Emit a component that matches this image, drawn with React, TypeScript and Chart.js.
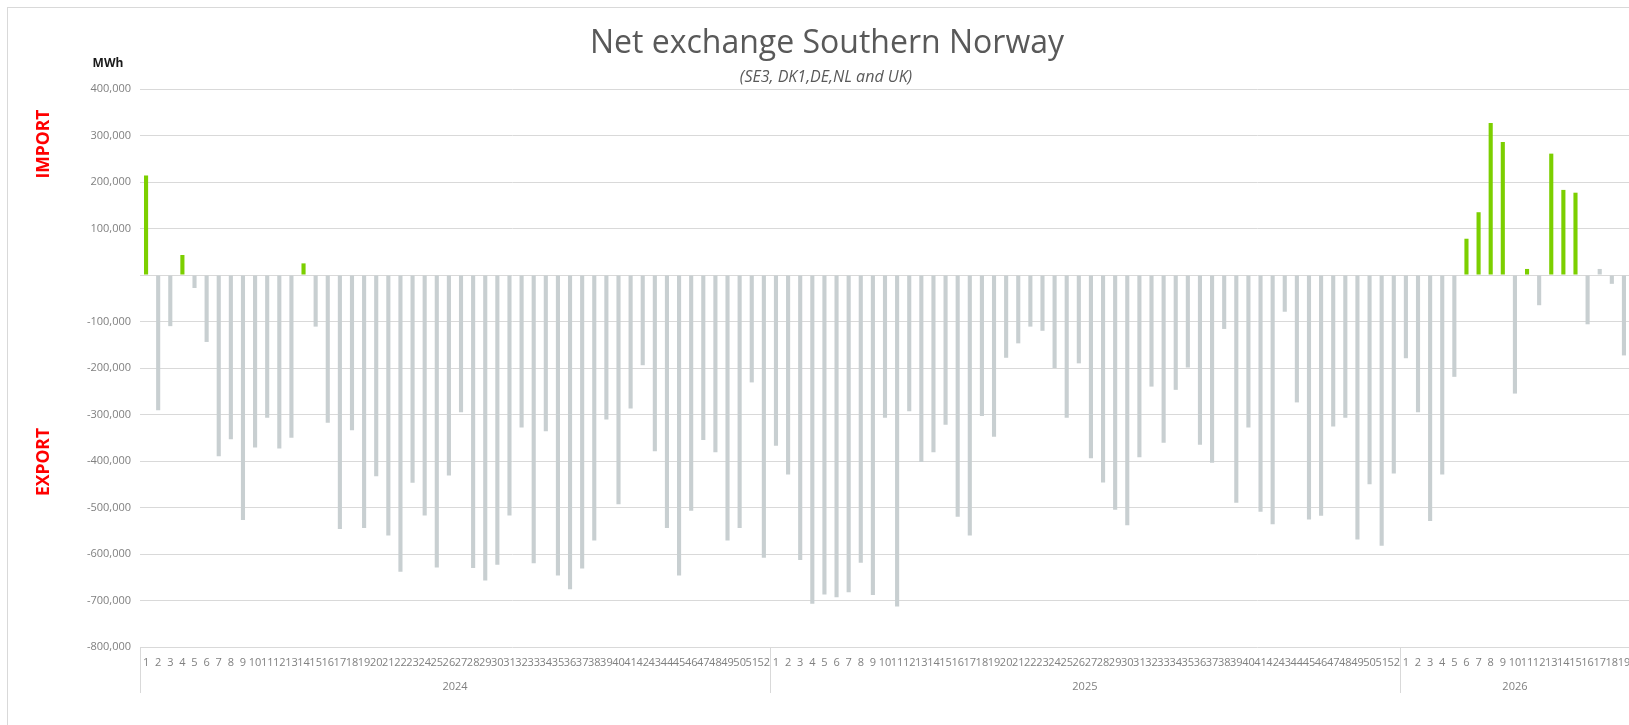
import React, { useEffect, useRef } from 'react';
import { Chart, registerables } from 'chart.js';

Chart.register(...registerables);

// ---- Data (MWh, weekly net exchange; + = import, - = export) ----
const years = ['2024', '2025', '2026'];

const weeks2024 = [
  214000, -291000, -110000, 43000, -28000, -144000, -390000, -353000, -527000, -371000,
  -307000, -373000, -350000, 25000, -111000, -318000, -546000, -334000, -544000, -433000,
  -560000, -638000, -447000, -517000, -629000, -431000, -295000, -630000, -657000, -623000,
  -517000, -328000, -620000, -336000, -646000, -676000, -631000, -571000, -311000, -493000,
  -287000, -194000, -379000, -544000, -646000, -507000, -355000, -381000, -571000, -544000,
  -231000, -608000,
];

const weeks2025 = [
  -367000, -429000, -613000, -707000, -687000, -693000, -682000, -619000, -688000, -307000,
  -713000, -293000, -402000, -381000, -322000, -520000, -560000, -303000, -348000, -178000,
  -147000, -111000, -120000, -200000, -307000, -190000, -394000, -446000, -505000, -538000,
  -392000, -240000, -361000, -247000, -199000, -365000, -404000, -116000, -490000, -328000,
  -509000, -536000, -79000, -274000, -526000, -518000, -326000, -307000, -569000, -450000,
  -582000, -427000,
];

const weeks2026 = [
  -179000, -295000, -529000, -429000, -219000, 78000, 135000, 327000, 286000, -255000,
  13000, -65000, 261000, 183000, 177000, -106000, 13000, -19000, -173000,
];

// weeks of 2026 drawn grey although slightly positive
const greyPositive2026 = [17];

const yTicksMin = -800000;
const yTicksMax = 400000;
const yStep = 100000;

const titleText = 'Net exchange Southern Norway';
const subtitleText = '(SE3, DK1,DE,NL and UK)';
const unitText = 'MWh';
const importText = 'IMPORT';
const exportText = 'EXPORT';

// ---- Derived ----
const series = [weeks2024, weeks2025, weeks2026];
const labels: string[] = [];
const values: number[] = [];
const colors: string[] = [];
const GREEN = '#7ccf00';
const GREY = '#c8cfd1';
series.forEach((arr, yi) => {
  arr.forEach((v, i) => {
    labels.push(String(i + 1));
    values.push(v);
    const forcedGrey = yi === 2 && greyPositive2026.includes(i + 1);
    colors.push(v > 0 && !forcedGrey ? GREEN : GREY);
  });
});

const FONT = '"Open Sans", "Noto Sans", sans-serif';
const TEXT_GREY = '#808080';
const GRID = '#d9d9d9';

const decorPlugin = {
  id: 'decor',
  afterDraw(chart: any) {
    const ctx: CanvasRenderingContext2D = chart.ctx;
    const area = chart.chartArea;
    const xs = chart.scales.x;
    const n = labels.length;
    const slot = (area.right - area.left) / n;
    ctx.save();

    // category axis box lines & year separators
    const bounds: number[] = [xs.getPixelForValue(0) - slot / 2];
    let idx = 0;
    series.forEach((arr) => {
      idx += arr.length;
      if (idx < n) {
        bounds.push((xs.getPixelForValue(idx - 1) + xs.getPixelForValue(idx)) / 2);
      } else {
        bounds.push(xs.getPixelForValue(n - 1) + slot / 2);
      }
    });
    ctx.strokeStyle = GRID;
    ctx.lineWidth = 1;
    bounds.forEach((b) => {
      const xx = Math.round(b) + 0.5;
      ctx.beginPath();
      ctx.moveTo(xx, area.bottom);
      ctx.lineTo(xx, area.bottom + 46);
      ctx.stroke();
    });

    // year labels
    ctx.fillStyle = TEXT_GREY;
    ctx.font = `11px ${FONT}`;
    ctx.textAlign = 'center';
    ctx.textBaseline = 'middle';
    years.forEach((y, i) => {
      const cx = (bounds[i] + bounds[i + 1]) / 2;
      ctx.fillText(y, cx, area.bottom + 40);
    });

    // title
    ctx.fillStyle = '#595959';
    ctx.font = `32px ${FONT}`;
    ctx.textAlign = 'center';
    ctx.textBaseline = 'alphabetic';
    ctx.fillText(titleText, 819, 45);

    ctx.font = `italic 16px ${FONT}`;
    ctx.fillText(subtitleText, 818, 74);

    // unit
    ctx.fillStyle = '#1a1a1a';
    ctx.font = `bold 12px ${FONT}`;
    ctx.textBaseline = 'middle';
    ctx.fillText(unitText, 100, 56);

    // IMPORT / EXPORT
    ctx.fillStyle = '#ff0000';
    ctx.font = `bold 17.5px ${FONT}`;
    const drawRot = (t: string, x: number, y: number) => {
      ctx.save();
      ctx.translate(x, y);
      ctx.rotate(-Math.PI / 2);
      ctx.textAlign = 'center';
      ctx.textBaseline = 'middle';
      ctx.fillText(t, 0, 0);
      ctx.restore();
    };
    drawRot(importText, 36, 136);
    drawRot(exportText, 36, 454);

    ctx.restore();
  },
};

export default function App() {
  const ref = useRef<HTMLCanvasElement | null>(null);

  useEffect(() => {
    if (!ref.current) return;
    const chart = new Chart(ref.current, {
      type: 'bar',
      data: {
        labels,
        datasets: [
          {
            data: values,
            backgroundColor: colors,
            borderWidth: 0,
            barPercentage: 0.34,
            categoryPercentage: 1,
          },
        ],
      },
      options: {
        responsive: false,
        animation: false,
        devicePixelRatio: 1,
        layout: { padding: { top: 81, left: 0, right: 20, bottom: 41 } },
        plugins: {
          legend: { display: false },
          tooltip: { enabled: false },
          title: { display: false },
        },
        scales: {
          x: {
            grid: { display: false, drawTicks: false },
            border: { display: false },
            ticks: {
              autoSkip: false,
              maxRotation: 0,
              minRotation: 0,
              padding: 9,
              color: TEXT_GREY,
              font: { family: FONT, size: 11 },
            },
            afterFit: (s: any) => {
              s.height = 60;
            },
          },
          y: {
            min: yTicksMin,
            max: yTicksMax,
            grid: { color: GRID, lineWidth: 1, drawTicks: false },
            border: { display: false },
            ticks: {
              stepSize: yStep,
              padding: 9,
              color: TEXT_GREY,
              font: { family: FONT, size: 11 },
              callback: (v: any) => (Number(v) === 0 ? '' : Number(v).toLocaleString('en-US')),
            },
            afterFit: (s: any) => {
              s.width = 132;
            },
          },
        },
      },
      plugins: [decorPlugin],
    });
    return () => chart.destroy();
  }, []);

  return (
    <div
      style={{
        position: 'fixed',
        left: 0,
        top: 0,
        width: '100vw',
        height: '100vh',
        overflow: 'hidden',
        background: '#fff',
      }}
    >
      <div
        style={{
          position: 'absolute',
          left: 7,
          top: 7,
          width: 1642,
          height: 740,
          border: `1px solid ${GRID}`,
          background: '#fff',
        }}
      >
        <canvas ref={ref} width={1642} height={740} style={{ display: 'block' }} />
      </div>
    </div>
  );
}
